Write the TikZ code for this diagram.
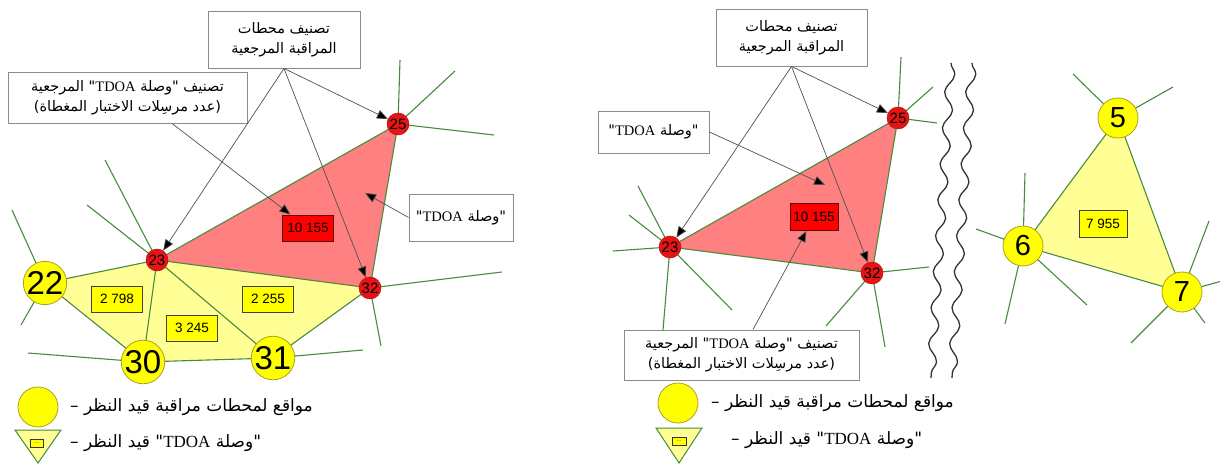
\documentclass[tikz,border=0pt]{standalone}
\usepackage{fontspec}
\usetikzlibrary{arrows.meta,decorations.pathmorphing}
\TeXXeTstate=1
\newfontfamily\arabicfont[Script=Arabic]{DejaVu Sans}
\newfontfamily\latinserif{Liberation Serif}
\newfontfamily\numfont{Liberation Sans}
\newcommand\artxt[1]{\beginR #1\endR}
\newcommand\tdoa{\beginL{\latinserif TDOA}\endL}
\definecolor{edgegreen}{RGB}{70,140,60}
\definecolor{nodered}{RGB}{230,20,20}
\definecolor{trired}{RGB}{255,128,128}
\definecolor{triyel}{RGB}{255,255,150}
\definecolor{nodeyel}{RGB}{255,255,0}
\definecolor{yelrim}{RGB}{170,160,40}
\definecolor{boxgray}{RGB}{140,140,140}
\definecolor{arrgray}{RGB}{80,80,80}
\tikzset{
  edge/.style={draw=edgegreen, line width=1.1pt},
  spoke/.style={draw=edgegreen, line width=1.1pt},
  redst/.style={circle, fill=nodered, draw=nodered!80!black, line width=0.5pt, minimum size=22pt, inner sep=0pt, font=\numfont\fontsize{15}{15}\selectfont},
  yelst/.style={circle, fill=nodeyel, draw=yelrim, line width=0.8pt, minimum size=42pt, inner sep=0pt, font=\numfont\fontsize{33}{33}\selectfont},
  yelsm/.style={yelst, minimum size=40pt, font=\numfont\fontsize{29}{29}\selectfont},
  lblbox/.style={rectangle, fill=nodeyel, draw=black!75, line width=0.9pt, minimum width=51pt, minimum height=26pt, inner sep=0pt, font=\numfont\fontsize{13.5}{13.5}\selectfont},
  redbox/.style={lblbox, fill=red, draw=black!60!red},
  txtbox/.style={rectangle, fill=white, draw=boxgray, line width=0.9pt, inner sep=0pt, align=center, font=\arabicfont\fontsize{14.5}{20}\selectfont},
  legtxt/.style={anchor=west, inner sep=0pt, font=\arabicfont\fontsize{17}{17}\selectfont},
  arr/.style={draw=arrgray, line width=0.7pt, -{Triangle[length=11pt,width=9pt,fill=black]}},
  wave/.style={draw=black!80, line width=1.3pt, decorate, decoration={snake, amplitude=4.5pt, segment length=36pt}},
}
\begin{document}
\begin{tikzpicture}[x=1pt,y=-1pt]
\useasboundingbox (0,0) rectangle (1220,465);
% ---------------- left diagram ----------------
\coordinate (c22) at (45,283);
\coordinate (c23) at (157,260);
\coordinate (c25) at (398,124);
\coordinate (c30) at (143,362);
\coordinate (c31) at (273,358);
\coordinate (c32) at (370,288);
\fill[triyel] (c22) -- (c23) -- (c32) -- (c31) -- (c30) -- cycle;
\fill[trired] (c23) -- (c25) -- (c32) -- cycle;
% spokes
\coordinate (s25a) at (400,60);
\coordinate (s25b) at (455,71);
\coordinate (s25c) at (494,135);
\coordinate (s32a) at (502,272);
\coordinate (s32b) at (381,346);
\coordinate (s23a) at (105,160);
\coordinate (s23b) at (87,205);
\coordinate (s22a) at (12,210);
\coordinate (s22b) at (21,325);
\coordinate (s30a) at (28,353);
\coordinate (s31a) at (363,350);
\foreach \a/\b in {c25/s25a,c25/s25b,c25/s25c,c32/s32a,c32/s32b,c23/s23a,c23/s23b,c22/s22a,c22/s22b,c30/s30a,c31/s31a}
  \draw[spoke] (\a) -- (\b);
\foreach \a/\b in {c22/c23,c22/c30,c23/c30,c30/c31,c23/c31,c31/c32,c23/c32,c23/c25,c25/c32}
  \draw[edge] (\a) -- (\b);
\node[yelst] (n22) at (c22) {22};
\node[yelst] (n30) at (c30) {30};
\node[yelst] (n31) at (c31) {31};
\node[redst] (n23) at (c23) {23};
\node[redst] (n25) at (c25) {25};
\node[redst] (n32) at (c32) {32};
\node[lblbox] (l2798) at (117,299) {2 798};
\node[lblbox] (l3245) at (192,328) {3 245};
\node[lblbox] (l2255) at (268,299) {2 255};
\node[redbox] (lR) at (308,228) {10 155};
% text boxes
\node[txtbox, minimum width=152pt, minimum height=57pt] (tb1) at (284,39.5)
  {\artxt{تصنيف محطات}\\\artxt{المراقبة المرجعية}};
\node[txtbox, minimum width=239pt, minimum height=51pt] (tb2) at (127.5,97.5)
  {\artxt{تصنيف "وصلة \tdoa" المرجعية}\\\artxt{(عدد مرسِلات الاختبار المغطاة)}};
\node[txtbox, minimum width=104pt, minimum height=47pt] (tb3) at (461,217.5)
  {\artxt{"وصلة \tdoa"}};
\coordinate (p3) at (365,193);
\draw[arr] (tb1.south) -- (n25);
\draw[arr] (tb1.south) -- (n23);
\draw[arr] (tb1.south) -- (n32);
\draw[arr] ([xshift=44.5pt]tb2.south) -- (lR);
\draw[arr] (tb3.west) -- (p3);
% legend left
\node[circle, fill=nodeyel, draw=yelrim, line width=0.8pt, minimum size=40pt, inner sep=0pt] (lgc1) at (38,407) {};
\node[legtxt] (lgt1) at (70,407) {\artxt{مواقع لمحطات مراقبة قيد النظر –}};
\coordinate (lt1a) at (15,430);
\coordinate (lt1b) at (61,430);
\coordinate (lt1c) at (38,463);
\filldraw[fill=triyel, draw=edgegreen, line width=1pt] (lt1a) -- (lt1b) -- (lt1c) -- cycle;
\node[rectangle, fill=nodeyel, draw=black!80, line width=0.8pt, minimum width=13pt, minimum height=8pt, inner sep=0pt, font=\numfont\fontsize{5}{5}\selectfont] (lgr1) at (37,443) {...};
\node[legtxt] (lgt2) at (70,443) {\artxt{"وصلة \tdoa" قيد النظر –}};
% ---------------- right diagram ----------------
\coordinate (d23) at (670,247);
\coordinate (d25) at (898,118);
\coordinate (d32) at (872,273);
\fill[trired] (d23) -- (d25) -- (d32) -- cycle;
\coordinate (t25a) at (901,57);
\coordinate (t25b) at (933,87);
\coordinate (t25c) at (937,123);
\coordinate (t23a) at (638,186);
\coordinate (t23b) at (629,215);
\coordinate (t23c) at (613,251);
\coordinate (t23d) at (663,330);
\coordinate (t23e) at (732,310);
\coordinate (t32a) at (929,267);
\coordinate (t32b) at (826,326);
\coordinate (t32c) at (885,347);
\foreach \a/\b in {d25/t25a,d25/t25b,d25/t25c,d23/t23a,d23/t23b,d23/t23c,d23/t23d,d23/t23e,d32/t32a,d32/t32b,d32/t32c}
  \draw[spoke] (\a) -- (\b);
\foreach \a/\b in {d23/d25,d25/d32,d23/d32}
  \draw[edge] (\a) -- (\b);
\node[redst] (r23) at (d23) {23};
\node[redst] (r25) at (d25) {25};
\node[redst] (r32) at (d32) {32};
\node[redbox, minimum width=48pt, minimum height=27pt] (lR2) at (814,217) {10 155};
\node[txtbox, minimum width=151pt, minimum height=57pt] (tr1) at (791.5,37.5)
  {\artxt{تصنيف محطات}\\\artxt{المراقبة المرجعية}};
\node[txtbox, minimum width=111pt, minimum height=42pt] (tr2) at (653.5,132)
  {\artxt{"وصلة \tdoa"}};
\node[txtbox, minimum width=235pt, minimum height=50pt] (tr3) at (741.5,355)
  {\artxt{تصنيف "وصلة \tdoa" المرجعية}\\\artxt{(عدد مرسِلات الاختبار المغطاة)}};
\coordinate (q2) at (825,185);
\draw[arr] (tr1.south) -- (r25);
\draw[arr] (tr1.south) -- (r23);
\draw[arr] (tr1.south) -- (r32);
\draw[arr] (tr2.east) -- (q2);
\draw[arr] ([xshift=11.5pt]tr3.north) -- (lR2);
% wavy break lines
\coordinate (w1a) at (951,63);
\coordinate (w1b) at (931,378);
\coordinate (w2a) at (972,63);
\coordinate (w2b) at (952,378);
\draw[wave] (w1a) -- (w1b);
\draw[wave] (w2a) -- (w2b);
% triangle 5-6-7
\coordinate (e5) at (1118,118);
\coordinate (e6) at (1023,246);
\coordinate (e7) at (1182,292);
\fill[triyel] (e5) -- (e6) -- (e7) -- cycle;
\coordinate (u5a) at (1073,74);
\coordinate (u5b) at (1173,87);
\coordinate (u6a) at (1025,173);
\coordinate (u6b) at (976,229);
\coordinate (u6c) at (1005,324);
\coordinate (u6d) at (1087,305);
\coordinate (u7a) at (1209,221);
\coordinate (u7b) at (1222,281);
\coordinate (u7c) at (1205,323);
\coordinate (u7d) at (1131,343);
\foreach \a/\b in {e5/u5a,e5/u5b,e6/u6a,e6/u6b,e6/u6c,e6/u6d,e7/u7a,e7/u7b,e7/u7c,e7/u7d}
  \draw[spoke] (\a) -- (\b);
\foreach \a/\b in {e5/e6,e6/e7,e5/e7}
  \draw[edge] (\a) -- (\b);
\node[yelsm] (m5) at (e5) {5};
\node[yelsm] (m6) at (e6) {6};
\node[yelsm] (m7) at (e7) {7};
\node[lblbox, minimum width=48pt, minimum height=27pt] (l7955) at (1103,224) {7 955};
% legend right
\node[circle, fill=nodeyel, draw=yelrim, line width=0.8pt, minimum size=40pt, inner sep=0pt] (lgc2) at (678,403) {};
\node[legtxt] (lgt3) at (711,403) {\artxt{مواقع لمحطات مراقبة قيد النظر –}};
\coordinate (lt2a) at (656,428);
\coordinate (lt2b) at (702,428);
\coordinate (lt2c) at (679,463);
\filldraw[fill=triyel, draw=edgegreen, line width=1pt] (lt2a) -- (lt2b) -- (lt2c) -- cycle;
\node[rectangle, fill=nodeyel, draw=black!80, line width=0.8pt, minimum width=14pt, minimum height=8pt, inner sep=0pt, font=\numfont\fontsize{5}{5}\selectfont] (lgr2) at (679,441) {...};
\node[legtxt] (lgt4) at (731,440) {\artxt{"وصلة \tdoa" قيد النظر –}};
\end{tikzpicture}
\end{document}
